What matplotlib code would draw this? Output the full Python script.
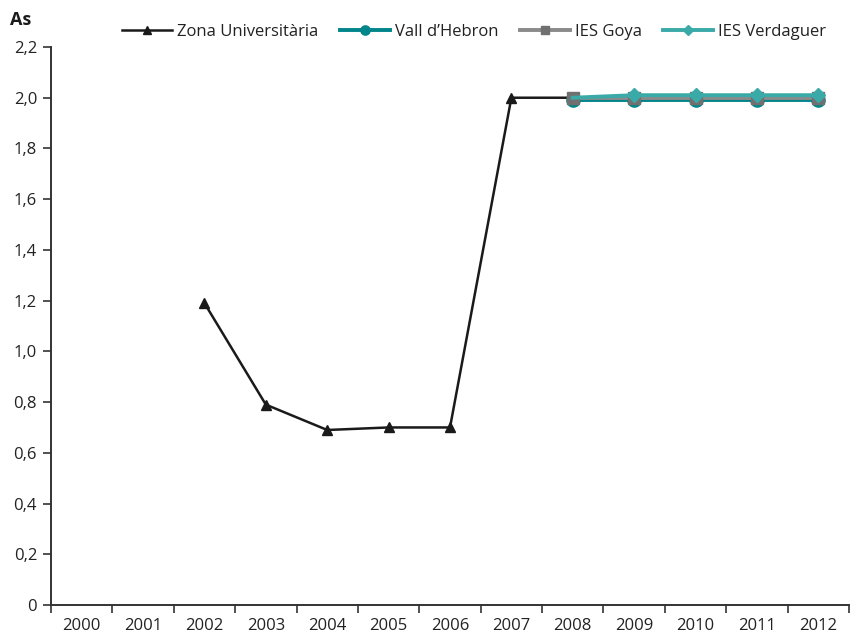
import numpy as np
import matplotlib
matplotlib.use("Agg")
import matplotlib.pyplot as plt

years = ["2000", "2001", "2002", "2003", "2004", "2005", "2006",
         "2007", "2008", "2009", "2010", "2011", "2012"]

# values by year index (None = no data)
zona = [None, None, 1.19, 0.79, 0.69, 0.70, 0.70, 2.00, 2.00, 2.00, None, None, None]
vall = [None] * 8 + [1.99, 1.99, 1.99, 1.99, 1.99]
goya = [None] * 8 + [2.00, 2.00, 2.00, 2.00, 2.00]
verdaguer = [None] * 8 + [2.00, 2.01, 2.01, 2.01, 2.01]

plt.rcParams["font.family"] = ["Open Sans", "DejaVu Sans"]

x = np.arange(len(years))


def arr(v):
    return np.array([np.nan if a is None else a for a in v], dtype=float)


fig = plt.figure(figsize=(8.51, 6.36), dpi=100)
ax = fig.add_axes([51 / 851, 1 - 605 / 636, 798 / 851, 558 / 636])

ax.plot(x, arr(zona), color="#1a1a1a", lw=1.8, marker="^", ms=7.5,
        label="Zona Universitària", zorder=3)
ax.plot(x, arr(vall), color="#00858a", lw=2.8, marker="o", ms=9.5,
        label="Vall d\u2019Hebron", zorder=4)
ax.plot(x, arr(goya), color="#8a8a8a", lw=2.8, marker="s", ms=8,
        mfc="#707070", mec="#707070", label="IES Goya", zorder=5)
# Verdaguer: line from 2008, markers from 2009
ax.plot(x, arr(verdaguer), color="#3aaaa9", lw=2.8, marker="D", ms=7,
        markevery=[9, 10, 11, 12], label="IES Verdaguer", zorder=6)

ax.set_xlim(-0.5, 12.5)
ax.set_ylim(0, 2.2)
yt = np.arange(0, 2.21, 0.2)
ax.set_yticks(yt)
ax.set_yticklabels(["0"] + [f"{v:.1f}".replace(".", ",") for v in yt[1:]])

ax.set_xticks(np.arange(-0.5, 12.6, 1))
ax.set_xticklabels([])
ax.set_xticks(x, minor=True)
ax.set_xticklabels(years, minor=True)
ax.tick_params(axis="x", which="minor", length=0, pad=9, labelsize=12, colors="#222222")
ax.tick_params(axis="x", which="major", length=6, width=1.2, color="#333333")
ax.tick_params(axis="y", length=6, width=1.2, color="#333333", labelsize=12,
               labelcolor="#222222", pad=4)

for s in ["top", "right"]:
    ax.spines[s].set_visible(False)
for s in ["left", "bottom"]:
    ax.spines[s].set_color("#333333")
    ax.spines[s].set_linewidth(1.4)

fig.text(10 / 851, 1 - 20 / 636, "As", fontsize=13, fontweight="bold",
         va="center", ha="left", color="#1a1a1a")

leg = ax.legend(loc="center", bbox_to_anchor=(474 / 851, 1 - 32 / 636),
                bbox_transform=fig.transFigure, ncol=4, frameon=False,
                fontsize=12, handlelength=3.0, handletextpad=0.3,
                columnspacing=1.3, markerscale=0.7)
for t in leg.get_texts():
    t.set_color("#222222")

fig.savefig("out.png", dpi=100)
